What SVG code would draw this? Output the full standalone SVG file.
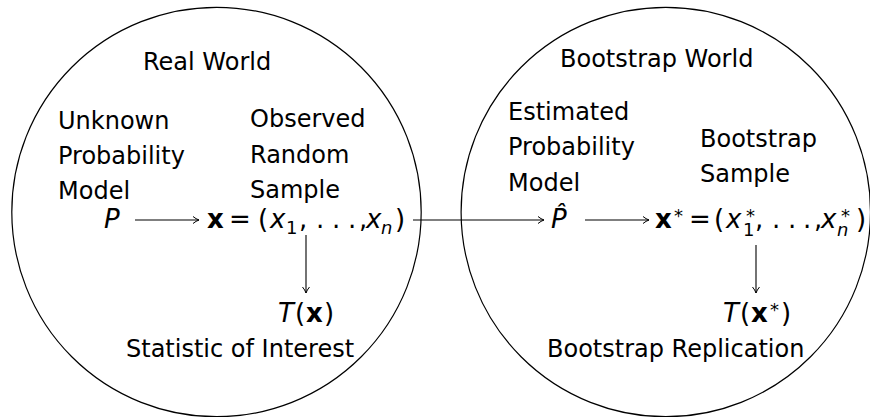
<svg xmlns="http://www.w3.org/2000/svg" width="870" height="417" viewBox="0 0 870 417">
<style>
text{font-family:"DejaVu Sans","Liberation Sans",sans-serif;font-size:24px;fill:#000}
.m{font-size:26px}
.it{font-style:italic}
.bf{font-weight:bold}
.sm{font-size:18px;font-style:normal}
.smi{font-size:18px;font-style:italic}
.world{fill:none;stroke:#000;stroke-width:1.2}
.conn{fill:none;stroke:#000;stroke-width:1.1}
</style>
<defs>
<marker id="tip" markerWidth="10" markerHeight="10" refX="8" refY="5" orient="auto" markerUnits="userSpaceOnUse">
<path d="M2,1.5 Q5,4 8,5 Q5,6 2,8.5" fill="none" stroke="#000" stroke-width="1"/>
</marker>
</defs>
<rect width="870" height="417" fill="#fff"/>
<g id="real-world">
<circle class="world" cx="216.5" cy="212" r="204.7"/>
<text x="143" y="70">Real World</text>
</g>
<g id="bootstrap-world">
<circle class="world" cx="665.8" cy="212" r="204.7"/>
<text x="560" y="67">Bootstrap World</text>
</g>
<g id="unknown-model">
<text x="58" y="129">Unknown</text>
<text x="58" y="164">Probability</text>
<text x="58" y="199">Model</text>
<text class="m it" x="104" y="228">P</text>
</g>
<g id="observed-sample">
<text x="250" y="127">Observed</text>
<text x="250" y="163">Random</text>
<text x="250" y="198">Sample</text>
<text class="m bf" x="207" y="228">x</text>
<text class="m" x="229" y="228">=</text>
<text class="m" x="258" y="228">(</text>
<text class="m it" x="270" y="228">x</text>
<text class="sm" x="286" y="234">1</text>
<text class="m" x="299" y="228">,</text>
<text class="m" x="316" y="228">.</text>
<text class="m" x="332" y="228">.</text>
<text class="m" x="348" y="228">.</text>
<text class="m" x="359" y="228">,</text>
<text class="m it" x="366" y="228">x</text>
<text class="smi" x="381" y="234">n</text>
<text class="m" x="395" y="228">)</text>
</g>
<g id="statistic">
<text class="m it" x="278" y="322">T</text>
<text class="m" x="295" y="322">(</text>
<text class="m bf" x="306" y="322">x</text>
<text class="m" x="324" y="322">)</text>
<text x="126" y="357">Statistic of Interest</text>
</g>
<g id="estimated-model">
<text x="508" y="120">Estimated</text>
<text x="508" y="155">Probability</text>
<text x="508" y="191">Model</text>
<text class="m it" x="551" y="228">P&#x302;</text>
</g>
<g id="bootstrap-sample">
<text x="700" y="147">Bootstrap</text>
<text x="700" y="182">Sample</text>
<text class="bf m" x="655" y="228">x</text>
<text class="sm" x="674" y="222">*</text>
<text class="m" x="689" y="228">=</text>
<text class="m" x="714" y="228">(</text>
<text class="m it" x="726" y="228">x<tspan class="sm" dx="4.6" dy="-6">*</tspan><tspan class="sm" dx="-12" dy="14">1</tspan></text>
<text class="m" x="755" y="228">,</text>
<text class="m" x="772" y="228">.</text>
<text class="m" x="788" y="228">.</text>
<text class="m" x="803" y="228">.</text>
<text class="m" x="814" y="228">,</text>
<text class="m it" x="821" y="228">x<tspan class="sm" dx="4.6" dy="-6">*</tspan><tspan class="smi" dx="-13" dy="14">n</tspan></text>
<text class="m" x="856" y="228">)</text>
</g>
<g id="replication">
<text class="m it" x="723" y="322">T</text>
<text class="m" x="740" y="322">(</text>
<text class="m bf" x="751" y="322">x</text>
<text class="sm" x="770" y="316">*</text>
<text class="m" x="781" y="322">)</text>
<text x="547" y="357">Bootstrap Replication</text>
</g>
<g id="connectors">
<line class="conn" x1="135" y1="220" x2="199" y2="220" marker-end="url(#tip)"/>
<line class="conn" x1="306" y1="235" x2="306" y2="293" marker-end="url(#tip)"/>
<line class="conn" x1="413" y1="220" x2="544" y2="220" marker-end="url(#tip)"/>
<line class="conn" x1="585" y1="220" x2="649" y2="220" marker-end="url(#tip)"/>
<line class="conn" x1="756" y1="245" x2="756" y2="293" marker-end="url(#tip)"/>
</g>
</svg>
